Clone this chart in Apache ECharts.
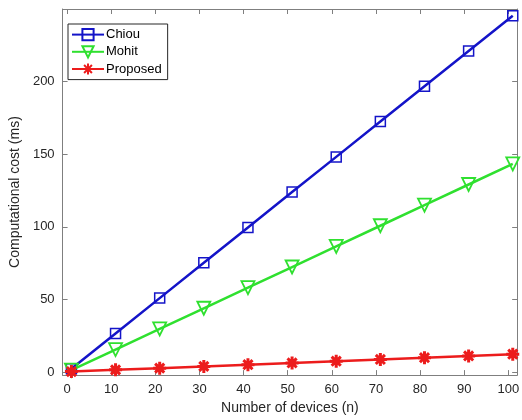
<!DOCTYPE html>
<html>
<head>
<meta charset="utf-8">
<script src="https://cdn.jsdelivr.net/npm/echarts@6/dist/echarts.min.js"></script>
<style>
  html, body { margin: 0; padding: 0; background: #fff; }
  #chartBox { width: 522px; height: 420px; }
</style>
</head>
<body>
<div id="chartBox"></div>
<script>
// devices on the x axis
var devices = [1, 11, 21, 31, 41, 51, 61, 71, 81, 91, 101];
// computational cost (ms)
var chiou = [2.4, 26.7, 51, 75.3, 99.6, 124, 148.2, 172.5, 196.8, 221.1, 245.4];
var mohit = [1.4, 15.6, 29.8, 44, 58.2, 72.4, 86.6, 100.8, 115, 129.2, 143.4];
var proposed = [0.4, 1.6, 2.8, 4, 5.2, 6.4, 7.6, 8.8, 10, 11.2, 12.4];
var xTicks = [0, 10, 20, 30, 40, 50, 60, 70, 80, 90, 100];
var yTicks = [0, 50, 100, 150, 200];

var axisGray = '#7f7f7f';
var textGray = '#262626';
var font = 'Liberation Sans, Arial, sans-serif';

function pairs(ys) {
    return devices.map(function (x, i) { return [x, ys[i]]; });
}

var starPath = 'path://M0,-6L0,6M-6,0L6,0M-4.2,-4.2L4.2,4.2M-4.2,4.2L4.2,-4.2';

function boxAxis(extra) {
    return Object.assign({
        type: 'value',
        axisLine: { show: true, onZero: false, lineStyle: { color: axisGray, width: 1 } },
        axisTick: { show: true, inside: true, length: 5, lineStyle: { color: axisGray } },
        splitLine: { show: false },
        axisLabel: { show: false }
    }, extra);
}

var option = {
    animation: false,
    backgroundColor: '#fff',
    grid: { left: 53, right: 4, top: 9, bottom: 44, containLabel: false },
    legend: {
        orient: 'vertical',
        left: 68,
        top: 24,
        padding: [4, 6, 4, 3],
        itemGap: 4,
        itemWidth: 32,
        itemHeight: 14,
        backgroundColor: '#fff',
        borderColor: '#262626',
        borderWidth: 1,
        borderRadius: 0,
        textStyle: { fontFamily: font, fontSize: 13, color: '#000', padding: [0, 0, 0, -3] },
        data: ['Chiou', 'Mohit', 'Proposed']
    },
    xAxis: [
        boxAxis({
            min: -1, max: 102, position: 'bottom',
            name: 'Number of devices (n)', nameLocation: 'middle', nameGap: 24,
            nameTextStyle: { fontFamily: font, fontSize: 14, color: textGray },
            axisTick: { show: true, inside: true, length: 5, customValues: xTicks, lineStyle: { color: axisGray } },
            axisLabel: { show: true, customValues: xTicks, margin: 8, fontFamily: font, fontSize: 13, color: textGray }
        }),
        boxAxis({
            min: -1, max: 102, position: 'top',
            axisTick: { show: true, inside: true, length: 5, customValues: xTicks, lineStyle: { color: axisGray } }
        })
    ],
    yAxis: [
        boxAxis({
            min: -2, max: 250, position: 'left',
            name: 'Computational cost (ms)', nameLocation: 'middle', nameGap: 37,
            nameTextStyle: { fontFamily: font, fontSize: 14, color: textGray },
            axisTick: { show: true, inside: true, length: 5, customValues: yTicks, lineStyle: { color: axisGray } },
            axisLabel: { show: true, customValues: yTicks, margin: 8, fontFamily: font, fontSize: 13, color: textGray }
        }),
        boxAxis({
            min: -2, max: 250, position: 'right',
            axisTick: { show: true, inside: true, length: 5, customValues: yTicks, lineStyle: { color: axisGray } }
        })
    ],
    series: [
        {
            name: 'Chiou', type: 'line', data: pairs(chiou),
            symbol: 'rect', symbolSize: 10, showAllSymbol: true,
            lineStyle: { color: '#1414c8', width: 2.5 },
            itemStyle: { color: 'rgba(0,0,0,0)', borderColor: '#1414c8', borderWidth: 1.5 },
            z: 3
        },
        {
            name: 'Mohit', type: 'line', data: pairs(mohit),
            symbol: 'triangle', symbolRotate: 180, symbolSize: 13, showAllSymbol: true,
            lineStyle: { color: '#2fe02f', width: 2.5 },
            itemStyle: { color: 'rgba(0,0,0,0)', borderColor: '#2fe02f', borderWidth: 1.8 },
            z: 4
        },
        {
            name: 'Proposed', type: 'line', data: pairs(proposed),
            symbol: starPath, symbolSize: 13, showAllSymbol: true,
            lineStyle: { color: '#ec1c1c', width: 2.5 },
            itemStyle: { color: '#ec1c1c', borderColor: '#ec1c1c', borderWidth: 3 },
            z: 5
        }
    ]
};

var chart = echarts.init(document.getElementById('chartBox'));
chart.setOption(option);
</script>
</body>
</html>
